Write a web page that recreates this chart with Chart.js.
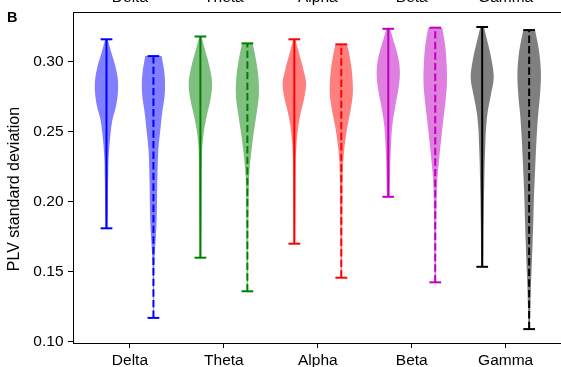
<!DOCTYPE html>
<html>
<head>
<meta charset="utf-8">
<script src="https://cdn.jsdelivr.net/npm/chart.js@4/dist/chart.umd.min.js"></script>
<style>
  html, body { margin: 0; padding: 0; background: #fff; overflow: hidden; width: 561px; height: 367px; position: relative; }
  #wrap { position: absolute; left: 0; top: -12px; width: 561px; height: 379px; }
  #panel { position: absolute; left: 7px; top: 9.5px; font: bold 14.5px/14.5px "Liberation Sans", Arial, sans-serif; color: #000; }
  #ytitle { position: absolute; left: -86.5px; top: 180.5px; width: 200px; height: 16px; text-align: center;
            font: 16px/16px "Liberation Sans", Arial, sans-serif; color: #000; white-space: nowrap;
            transform: rotate(-90deg); }
</style>
</head>
<body>
<div id="wrap"><canvas id="chart" width="561" height="379"></canvas></div>
<div id="panel">B</div>
<div id="ytitle">PLV standard deviation</div>
<script>
// Frequency bands (one pair of violins per band)
const bands = ['Delta', 'Theta', 'Alpha', 'Beta', 'Gamma'];
const lineColors = ['#0000ff', '#008000', '#ff0000', '#bf00bf', '#000000'];
const fillColors = ['rgba(0,0,255,0.5)', 'rgba(0,128,0,0.5)', 'rgba(255,0,0,0.5)', 'rgba(191,0,191,0.5)', 'rgba(0,0,0,0.5)'];
const yTicks = [0.10, 0.15, 0.20, 0.25, 0.30];

// Extremes of each distribution (solid = first condition, dashed = second)
const solidMin  = [0.181, 0.160, 0.170, 0.2035, 0.1535];
const solidMax  = [0.316, 0.318, 0.316, 0.3235, 0.3248];
const dashedMin = [0.117, 0.136, 0.1457, 0.1424, 0.109];
const dashedMax = [0.304, 0.3131, 0.3124, 0.3243, 0.3226];

// Relative density (violin half-width), sampled evenly from min (first) to max (last)
const solidShapes = [
  [0.08, 0.10, 0.12, 0.13, 0.15, 0.17, 0.24, 0.35, 0.50, 0.80, 0.97, 0.97, 0.76, 0.42, 0.10],
  [0.06, 0.07, 0.08, 0.09, 0.10, 0.11, 0.12, 0.16, 0.30, 0.55, 0.85, 1.00, 0.80, 0.45, 0.08],
  [0.06, 0.07, 0.08, 0.09, 0.10, 0.11, 0.13, 0.20, 0.33, 0.55, 0.85, 1.00, 0.75, 0.42, 0.08],
  [0.12, 0.14, 0.16, 0.18, 0.22, 0.27, 0.35, 0.50, 0.68, 0.87, 0.98, 0.95, 0.75, 0.45, 0.15],
  [0.08, 0.10, 0.11, 0.13, 0.15, 0.18, 0.21, 0.26, 0.32, 0.46, 0.73, 0.98, 0.82, 0.50, 0.15]
];
const dashedShapes = [
  [0.03, 0.04, 0.05, 0.08, 0.17, 0.26, 0.30, 0.32, 0.36, 0.42, 0.58, 0.75, 0.97, 0.95, 0.70],
  [0.05, 0.06, 0.06, 0.07, 0.08, 0.10, 0.12, 0.20, 0.36, 0.55, 0.78, 0.97, 0.95, 0.75, 0.45],
  [0.05, 0.06, 0.07, 0.08, 0.09, 0.10, 0.12, 0.17, 0.30, 0.50, 0.78, 0.98, 0.95, 0.78, 0.50],
  [0.06, 0.07, 0.08, 0.09, 0.11, 0.14, 0.22, 0.37, 0.53, 0.70, 0.88, 1.00, 0.97, 0.85, 0.60],
  [0.06, 0.10, 0.15, 0.22, 0.29, 0.35, 0.40, 0.47, 0.55, 0.64, 0.76, 0.93, 1.00, 0.85, 0.50]
];

const HALF_WIDTH = 0.125;   // max half-width of a violin body (x units)
const CAP_HALF = 0.0625;    // half-length of the min/max caps
const PAIR_OFFSET = 0.25;   // distance of each violin from its band tick

const FONT = { family: '"Liberation Sans", Arial, sans-serif', size: 15.5 };

function violin(center, lo, hi, shape, lineColor, fillColor, dashed) {
  const n = shape.length;
  const levels = shape.map((_, i) => lo + (hi - lo) * i / (n - 1));
  const edge = sign => levels.map((v, i) => ({ x: center + sign * HALF_WIDTH * shape[i], y: v }));
  const body = {
    borderColor: 'rgba(0,0,0,0)', borderWidth: 0, pointRadius: 0, tension: 0.35, order: 1
  };
  const line = (pts, dash) => ({
    data: pts, borderColor: lineColor, borderWidth: 2, borderDash: dash, pointRadius: 0,
    fill: false, tension: 0, order: 0, borderCapStyle: 'butt'
  });
  return [
    Object.assign({ data: edge(-1), fill: false }, body),
    Object.assign({ data: edge(1), fill: '-1', backgroundColor: fillColor }, body),
    line([{ x: center, y: lo }, { x: center, y: hi }], dashed ? [7.4, 3.2] : []),
    line([{ x: center - CAP_HALF, y: lo }, { x: center + CAP_HALF, y: lo }], []),
    line([{ x: center - CAP_HALF, y: hi }, { x: center + CAP_HALF, y: hi }], [])
  ];
}

const datasets = [];
bands.forEach((b, i) => {
  const pos = i + 1;
  datasets.push(...violin(pos - PAIR_OFFSET, solidMin[i], solidMax[i], solidShapes[i], lineColors[i], fillColors[i], false));
  datasets.push(...violin(pos + PAIR_OFFSET, dashedMin[i], dashedMax[i], dashedShapes[i], lineColors[i], fillColors[i], true));
});

const X_MIN = 0.3936, X_MAX = 5.589;
const Y_MIN = 0.09907, Y_MAX = 0.3355;

const bandTicks = s => { s.ticks = bands.map((_, i) => ({ value: i + 1 })); };

new Chart(document.getElementById('chart'), {
  type: 'line',
  data: { datasets },
  options: {
    indexAxis: 'y',
    responsive: false,
    animation: false,
    events: [],
    layout: { padding: 0 },
    plugins: { legend: { display: false }, tooltip: { enabled: false } },
    elements: { point: { radius: 0 } },
    scales: {
      x: {
        type: 'linear', axis: 'x', position: 'bottom', min: X_MIN, max: X_MAX,
        afterBuildTicks: bandTicks,
        afterFit: s => { s.height = 24; },
        ticks: { callback: v => bands[v - 1], font: FONT, color: '#000', padding: 3, maxRotation: 0, autoSkip: false },
        grid: { drawOnChartArea: false, drawTicks: true, tickLength: 5, tickColor: '#000', tickWidth: 1 },
        border: { display: true, color: '#000', width: 1 }
      },
      xTop: {
        type: 'linear', axis: 'x', position: 'top', min: X_MIN, max: X_MAX,
        afterBuildTicks: bandTicks,
        afterFit: s => { s.height = 24; },
        ticks: { callback: v => bands[v - 1], font: FONT, color: '#000', padding: 4.7, maxRotation: 0, autoSkip: false },
        grid: { drawOnChartArea: false, drawTicks: false },
        border: { display: true, color: '#000', width: 1 }
      },
      y: {
        type: 'linear', position: 'left', min: Y_MIN, max: Y_MAX,
        afterBuildTicks: s => { s.ticks = yTicks.map(v => ({ value: v })); },
        afterFit: s => { s.width = 73; },
        ticks: { callback: v => v.toFixed(2), font: FONT, color: '#000', padding: 4.5 },
        grid: { drawOnChartArea: false, drawTicks: true, tickLength: 5, tickColor: '#000', tickWidth: 1 },
        border: { display: true, color: '#000', width: 1 }
      }
    }
  }
});
</script>
</body>
</html>
